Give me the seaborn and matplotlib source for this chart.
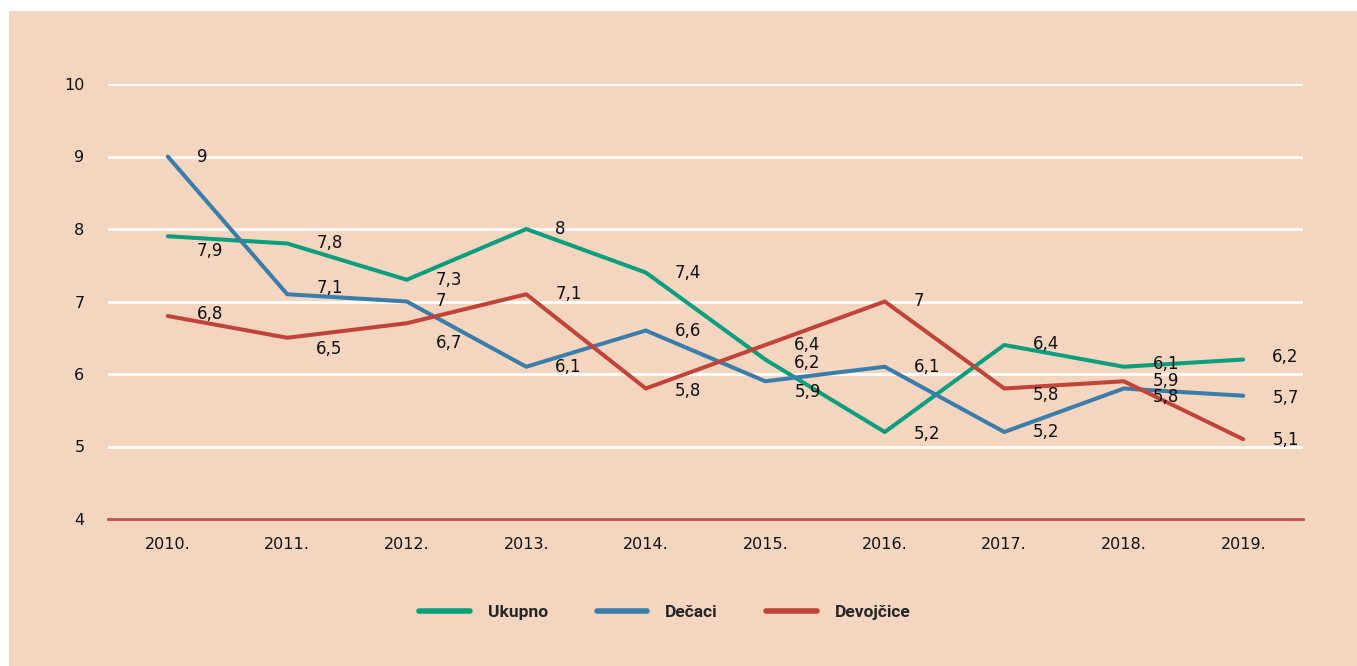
import matplotlib as mpl
import numpy as np
import pandas as pd
mpl.use("Agg")
import matplotlib.pyplot as plt
import seaborn as sns

years = [2010, 2011, 2012, 2013, 2014, 2015, 2016, 2017, 2018, 2019]
ukupno = [7.9, 7.8, 7.3, 8.0, 7.4, 6.2, 5.2, 6.4, 6.1, 6.2]
decaci = [9.0, 7.1, 7.0, 6.1, 6.6, 5.9, 6.1, 5.2, 5.8, 5.7]
devojcice = [6.8, 6.5, 6.7, 7.1, 5.8, 6.4, 7.0, 5.8, 5.9, 5.1]
series = ["Ukupno", "Dečaci", "Devojčice"]

# label nudges in pixels (down), to keep labels from overlapping
nudge = {
    "Ukupno": [15, 0, 0, 0, 1, 3, 2, -1, -3, -3],
    "Dečaci": [0, -6, 0, 0, 1, 11, 0, 0, 9, 2],
    "Devojčice": [-2, 11, 20, 0, 2, 0, 0, 7, 0, 1],
}

peach = "#F3D5C0"
colors = {"Ukupno": "#0A9E7C", "Dečaci": "#3A7DAA", "Devojčice": "#C0443A"}

df = pd.DataFrame({
    "godina": years * 3,
    "vrednost": ukupno + decaci + devojcice,
    "serija": [s for s in series for _ in years],
})

sns.set_style("white")
plt.rcParams["font.family"] = ["DejaVu Sans"]

fig = plt.figure(figsize=(13.57, 6.66), dpi=100)
fig.patches.append(mpl.patches.Rectangle((9 / 1357, 0), 1, 655 / 666,
                                         transform=fig.transFigure,
                                         facecolor=peach, edgecolor="none", zorder=-10))
ax = fig.add_axes([108 / 1357, 1 - 519 / 666, (1303 - 108) / 1357, (519 - 84) / 666])
ax.set_facecolor(peach)

sns.lineplot(data=df, x="godina", y="vrednost", hue="serija", palette=colors,
             hue_order=series, linewidth=2.9, ax=ax, legend=True, zorder=3)

# data labels
vals = {"Ukupno": ukupno, "Dečaci": decaci, "Devojčice": devojcice}
for s in series:
    for i, (x, v) in enumerate(zip(years, vals[s])):
        txt = ("%g" % v).replace(".", ",")
        ax.annotate(txt, (x, v), xytext=(29 * 0.72, -nudge[s][i] * 0.72),
                    textcoords="offset points", ha="left", va="center",
                    fontsize=12, color="#111111", zorder=5)

ax.set_xlim(2009.5, 2019.5)
ax.set_ylim(4, 10)
ax.set_yticks(range(4, 11))
ax.set_xticks(years)
ax.set_xticklabels([f"{y}." for y in years])
ax.tick_params(axis="both", length=0, labelsize=11.5, colors="#111111")
ax.tick_params(axis="y", pad=17)
ax.tick_params(axis="x", pad=13)
ax.set_xlabel("")
ax.set_ylabel("")

ax.grid(axis="y", color="white", linewidth=2)
ax.set_axisbelow(True)
for side in ["top", "right", "left"]:
    ax.spines[side].set_visible(False)
ax.spines["bottom"].set_color("#C0504D")
ax.spines["bottom"].set_linewidth(2)
ax.spines["bottom"].set_zorder(2)

handles, labels = ax.get_legend_handles_labels()
for h in handles:
    h.set_linewidth(4)
    h.set_solid_capstyle("round")
leg = ax.legend(handles, labels, loc="center", bbox_to_anchor=(665 / 1357, 1 - 612 / 666),
                bbox_transform=fig.transFigure, ncol=3, frameon=False,
                handlelength=2.9, handletextpad=1.05, columnspacing=2.8,
                prop={"family": "Roboto", "weight": "bold", "size": 12.5})

plt.savefig("out.png", dpi=100)
